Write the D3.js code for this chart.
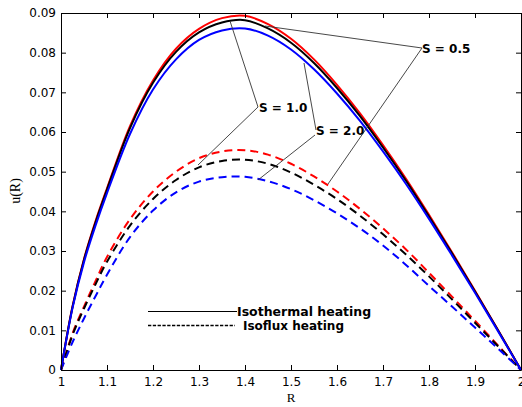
<!DOCTYPE html>
<html><head><meta charset="utf-8">
<script src="https://cdn.jsdelivr.net/npm/d3@7"></script>
<style>
body{margin:0;background:#fff;}
svg{display:block;}
</style></head>
<body><svg id="chart" width="522" height="407"></svg>
<script>
const R = [1.0,1.025,1.05,1.075,1.1,1.15,1.2,1.25,1.3,1.35,1.4,1.45,1.5,1.55,1.6,1.65,1.7,1.75,1.8,1.85,1.9,1.95,2.0];
// Isothermal heating (solid)
const isoRed   = [0,0.0160,0.0280,0.0375,0.0458,0.0615,0.0730,0.0810,0.0860,0.0887,0.0893,0.0872,0.0835,0.0783,0.0719,0.0647,0.0567,0.0482,0.0391,0.0297,0.0200,0.0101,0];
const isoBlack = [0,0.0159,0.0278,0.0372,0.0455,0.0610,0.0724,0.0802,0.0851,0.0876,0.0882,0.0861,0.0825,0.0774,0.0711,0.0640,0.0561,0.0477,0.0387,0.0294,0.0198,0.0100,0];
const isoBlue  = [0,0.0156,0.0272,0.0364,0.0446,0.0595,0.0707,0.0783,0.0832,0.0856,0.0861,0.0843,0.0808,0.0758,0.0697,0.0628,0.0551,0.0469,0.0381,0.0289,0.0195,0.0098,0];
// Isoflux heating (dashed)
const fluxRed   = [0,0.0092,0.0160,0.0224,0.0285,0.0380,0.0450,0.0500,0.0534,0.0551,0.0554,0.0543,0.0520,0.0488,0.0450,0.0406,0.0357,0.0304,0.0245,0.0185,0.0124,0.0062,0];
const fluxBlack = [0,0.0088,0.0155,0.0216,0.0273,0.0364,0.0431,0.0479,0.0511,0.0527,0.0530,0.0520,0.0498,0.0467,0.0431,0.0389,0.0342,0.0291,0.0236,0.0178,0.0119,0.0060,0];
const fluxBlue  = [0,0.0070,0.0130,0.0186,0.0240,0.0335,0.0402,0.0448,0.0475,0.0486,0.0487,0.0476,0.0456,0.0428,0.0395,0.0357,0.0314,0.0265,0.0212,0.0160,0.0107,0.0054,0];

const xTicks = [1,1.1,1.2,1.3,1.4,1.5,1.6,1.7,1.8,1.9,2];
const xTickLabels = ["1","1.1","1.2","1.3","1.4","1.5","1.6","1.7","1.8","1.9","2"];
const yTicks = [0,0.01,0.02,0.03,0.04,0.05,0.06,0.07,0.08,0.09];
const yTickLabels = ["0","0.01","0.02","0.03","0.04","0.05","0.06","0.07","0.08","0.09"];

const svg = d3.select("#chart");
const L = 61, Rt = 521, T = 13, B = 370;
const x = d3.scaleLinear().domain([1,2]).range([L,Rt]);
const y = d3.scaleLinear().domain([0,0.09]).range([B,T]);

const series = [
  {v: fluxRed, c:"#ff0000", dash:true},
  {v: fluxBlack, c:"#000000", dash:true},
  {v: fluxBlue, c:"#0000ff", dash:true},
  {v: isoRed, c:"#ff0000", dash:false},
  {v: isoBlack, c:"#000000", dash:false},
  {v: isoBlue, c:"#0000ff", dash:false}
];
const line = d3.line().x((d,i)=>x(R[i])).y(d=>y(d)).curve(d3.curveCatmullRom.alpha(0.5));
const plot = svg.append("g");
series.forEach(s=>{
  plot.append("path").attr("d", line(s.v)).attr("fill","none")
    .attr("stroke", s.c).attr("stroke-width", 2)
    .attr("stroke-dasharray", s.dash ? "8,5" : null);
});

// axes box
const axB = svg.append("g").attr("transform",`translate(0,${B})`)
  .call(d3.axisBottom(x).tickValues(xTicks).tickFormat((d,i)=>xTickLabels[i]).tickSizeInner(-5).tickSizeOuter(0).tickPadding(7));
const axT = svg.append("g").attr("transform",`translate(0,${T})`)
  .call(d3.axisTop(x).tickValues(xTicks).tickFormat("").tickSizeInner(-5).tickSizeOuter(0));
const axL = svg.append("g").attr("transform",`translate(${L},0)`)
  .call(d3.axisLeft(y).tickValues(yTicks).tickFormat((d,i)=>yTickLabels[i]).tickSizeInner(-5).tickSizeOuter(0).tickPadding(5));
const axR = svg.append("g").attr("transform",`translate(${Rt},0)`)
  .call(d3.axisRight(y).tickValues(yTicks).tickFormat("").tickSizeInner(-5).tickSizeOuter(0));
[axB,axT,axL,axR].forEach(a=>{
  a.selectAll("path").attr("stroke","#000");
  a.selectAll("line").attr("stroke","#000");
  a.selectAll("text").attr("font-family","DejaVu Sans, sans-serif").attr("font-size",12).attr("fill","#000");
});

// axis labels
svg.append("text").attr("x", 291).attr("y", 402).attr("text-anchor","middle")
  .attr("font-family","Liberation Serif, serif").attr("font-size",13).text("R");
svg.append("text").attr("transform","translate(20,191) rotate(-90)").attr("text-anchor","middle")
  .attr("font-family","Liberation Serif, serif").attr("font-size",14).text("u(R)");

// annotations
const ann = svg.append("g").attr("stroke","#333").attr("stroke-width",0.9);
const segs = [
  [422,48,265,26],[422,48,328,184],
  [258,107,230,21],[258,107,198,165],
  [316,130,304,63],[315,135,258,180]
];
segs.forEach(s=>ann.append("line").attr("x1",s[0]).attr("y1",s[1]).attr("x2",s[2]).attr("y2",s[3]));
const labels = [{t:"S = 0.5",x:422,y:53},{t:"S = 1.0",x:259,y:112},{t:"S = 2.0",x:316,y:135}];
labels.forEach(l=>svg.append("text").attr("x",l.x).attr("y",l.y)
  .attr("font-family","DejaVu Sans, sans-serif").attr("font-weight","bold").attr("font-size",12).text(l.t));

// legend
svg.append("line").attr("x1",148).attr("x2",237).attr("y1",311.5).attr("y2",311.5).attr("stroke","#000").attr("stroke-width",1);
svg.append("line").attr("x1",148).attr("x2",235).attr("y1",325.5).attr("y2",325.5).attr("stroke","#000").attr("stroke-width",1.6).attr("stroke-dasharray","3.3,1.5");
svg.append("text").attr("x",237).attr("y",316).attr("font-family","DejaVu Sans, sans-serif").attr("font-weight","bold").attr("font-size",12.5).text("Isothermal heating");
svg.append("text").attr("x",243).attr("y",330).attr("font-family","DejaVu Sans, sans-serif").attr("font-weight","bold").attr("font-size",12).text("Isoflux heating");
</script></body></html>
